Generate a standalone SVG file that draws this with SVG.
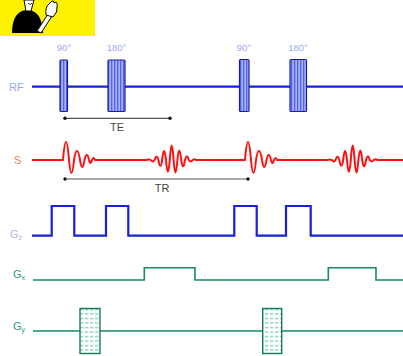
<svg xmlns="http://www.w3.org/2000/svg" width="403" height="356" viewBox="0 0 403 356">
  <style>
    .lbl { font-family: "Liberation Sans", Arial, sans-serif; }
    .rf-lbl { fill: #96a4f0; font-size: 11px; }
    .deg { fill: #9ea8f2; font-size: 9.5px; text-anchor: middle; }
    .s-lbl { fill: #f27a5e; font-size: 11px; }
    .gz-lbl { fill: #a9b5f2; font-size: 11px; }
    .g-lbl { fill: #2e9a70; font-size: 11px; }
    .sub { font-size: 7px; }
    .dim { fill: #444; font-size: 11px; text-anchor: middle; }
    .blue-trace { fill: none; stroke: #1620d8; stroke-width: 2.2; }
    .red-trace { fill: none; stroke: #ff1010; stroke-width: 2; stroke-linejoin: round; }
    .green-trace { fill: none; stroke: #178a62; stroke-width: 1.6; }
    .pulse { fill: url(#rfHatch); stroke: #1a1ab0; stroke-width: 1.2; }
    .phase { fill: url(#phaseHatch); stroke: #137a55; stroke-width: 1.4; }
    .dim-line { stroke: #555; stroke-width: 1.2; marker-start: url(#dot); marker-end: url(#dot); }
  </style>
  <defs>
    <pattern id="rfHatch" patternUnits="userSpaceOnUse" width="3" height="4">
      <rect width="3" height="4" fill="#5264ea"/>
      <rect x="1.6" width="1" height="4" fill="#e2e6ff"/>
    </pattern>
    <pattern id="phaseHatch" patternUnits="userSpaceOnUse" width="5" height="4.5" y="1">
      <rect width="5" height="4.5" fill="#ffffff"/>
      <rect y="2" width="3.4" height="1.1" fill="#6cc8a4"/>
    </pattern>
    <marker id="dot" markerWidth="4" markerHeight="4" refX="2" refY="2" markerUnits="userSpaceOnUse">
      <circle cx="2" cy="2" r="1.7" fill="#111"/>
    </marker>
  </defs>

  <!-- cartoon badge -->
  <g id="badge">
    <rect x="0" y="0" width="95" height="36" fill="#fff200"/>
    <path d="M12,33 Q12,11 27,10 Q42,10 43,33 Z" fill="#000"/>
    <path d="M24,0 L26,11 L31,11 L34,0 Z" fill="#fff" stroke="#000" stroke-width="1"/>
    <path d="M28,3 Q30,6 32,3" fill="none" stroke="#000" stroke-width="0.8"/>
    <path d="M37,31 L48,14 L52,16 L41,33 Z" fill="#fff" stroke="#000" stroke-width="1"/>
    <path d="M46,15 Q45,7 49,4 L52,1 Q54,0 54,3 L56,2 Q58,3 57,7 Q58,12 53,17 Z" fill="#fff" stroke="#000" stroke-width="1"/>
  </g>

  <!-- RF channel -->
  <g id="rf">
    <text class="lbl rf-lbl" x="9" y="91">RF</text>
    <line class="blue-trace" x1="32" y1="86.7" x2="403" y2="86.7"/>
    <rect class="pulse" x="60" y="60" width="7.5" height="51.5" rx="1"/>
    <rect class="pulse" x="108" y="60" width="17" height="51.5" rx="1"/>
    <rect class="pulse" x="239.5" y="59.5" width="9.5" height="52" rx="1"/>
    <rect class="pulse" x="290" y="59.5" width="16.5" height="52" rx="1"/>
    <text class="lbl deg" x="64" y="51">90°</text>
    <text class="lbl deg" x="116.5" y="51">180°</text>
    <text class="lbl deg" x="244" y="51">90°</text>
    <text class="lbl deg" x="298" y="51">180°</text>
  </g>

  <!-- signal channel: FID after each 90° pulse, spin echo after each 180° pulse -->
  <g id="signal">
    <text class="lbl s-lbl" x="14" y="164">S</text>
    <path class="red-trace" d="M32,160 H63 q3,-36 6,0 q2.5,26 5,0 q3,-18 6,0 q2.25,14 4.5,0 q2.25,-10 4.5,0 q1.5,6 3,0 q1.5,-4 3,0
      H147 q1.9,-1.2 3.8,0 q1.9,3 3.8,0 q1.9,-6.4 3.8,0 q1.9,11.6 3.8,0 q1.9,-18 3.8,0 q1.9,23.6 3.8,0 q1.9,-29 3.8,0 q1.9,25 3.8,0 q1.9,-19 3.8,0 q1.9,12.6 3.8,0 q1.9,-7 3.8,0 q1.9,3.2 3.8,0 q1.9,-1.4 3.8,0
      H245 q3,-36 6,0 q2.5,26 5,0 q3,-18 6,0 q2.25,14 4.5,0 q2.25,-10 4.5,0 q1.5,6 3,0 q1.5,-4 3,0
      H328 q1.9,-1.2 3.8,0 q1.9,3 3.8,0 q1.9,-6.4 3.8,0 q1.9,11.6 3.8,0 q1.9,-18 3.8,0 q1.9,23.6 3.8,0 q1.9,-29 3.8,0 q1.9,25 3.8,0 q1.9,-19 3.8,0 q1.9,12.6 3.8,0 q1.9,-7 3.8,0 q1.9,3.2 3.8,0 q1.9,-1.4 3.8,0
      H403"/>
  </g>

  <!-- Gz channel -->
  <g id="gz">
    <text class="lbl gz-lbl" x="10" y="238">G<tspan class="sub" dy="2">z</tspan></text>
    <path class="blue-trace" d="M32,235.7 H51.7 V206 H74.3 V235.7 H106 V206 H128.3 V235.7 H234.3 V206 H256.7 V235.7 H286 V206 H310.7 V235.7 H403"/>
  </g>

  <!-- Gx channel -->
  <g id="gx">
    <text class="lbl g-lbl" x="13" y="278">G<tspan class="sub" dy="2">x</tspan></text>
    <path class="green-trace" d="M33,280 H144.3 V267.7 H195 V280 H328.3 V267.7 H376 V280 H403"/>
  </g>

  <!-- Gy channel -->
  <g id="gy">
    <text class="lbl g-lbl" x="13" y="330">G<tspan class="sub" dy="2">y</tspan></text>
    <line class="green-trace" x1="33" y1="331" x2="403" y2="331"/>
    <rect class="phase" x="80" y="308.5" width="20" height="45"/>
    <rect class="phase" x="262.7" y="308.5" width="19" height="45"/>
  </g>

  <!-- timing intervals -->
  <g id="connectors">
    <line class="dim-line" x1="65" y1="118.3" x2="170" y2="118.3"/>
    <text class="lbl dim" x="117" y="131">TE</text>
    <line class="dim-line" x1="65" y1="179" x2="248" y2="179"/>
    <text class="lbl dim" x="162" y="192">TR</text>
  </g>
</svg>
